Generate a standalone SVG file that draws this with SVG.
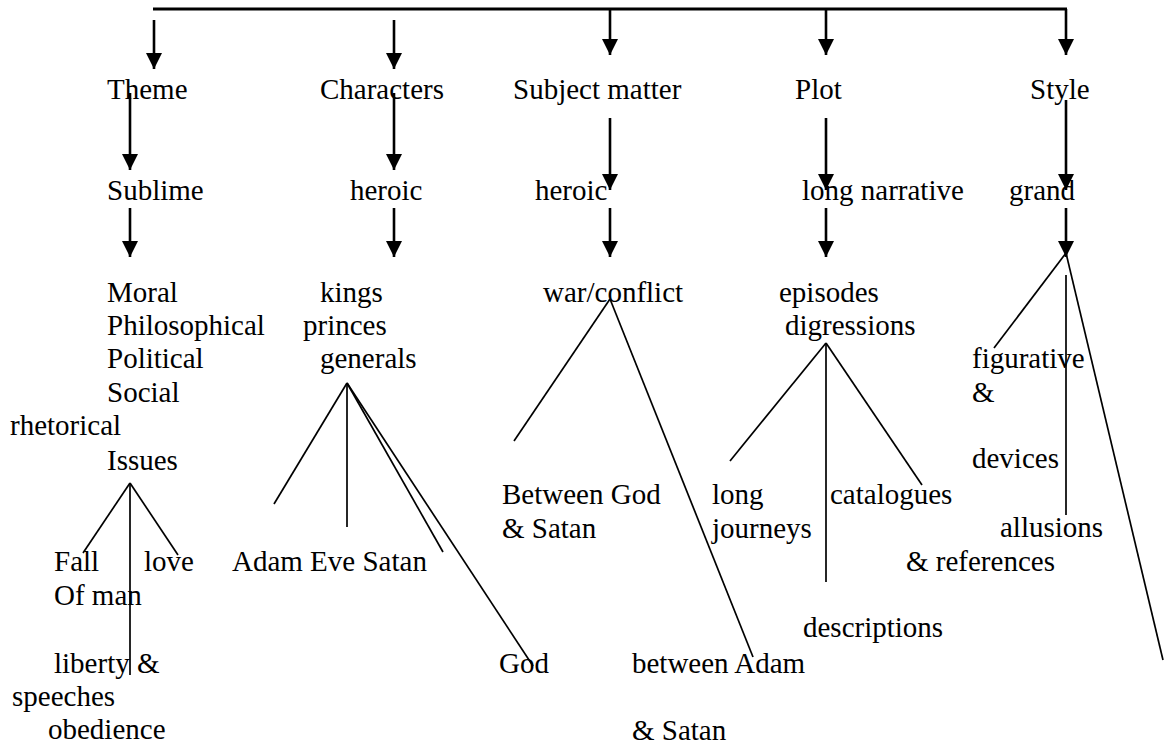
<svg xmlns="http://www.w3.org/2000/svg" width="1166" height="745" viewBox="0 0 1166 745">
  <style>
    text { font-family: "Liberation Serif", "Times New Roman", serif; font-size: 29px; fill: #000; }
    .arrow { stroke: #000; stroke-width: 2.6; fill: none; marker-end: url(#head); }
    .bar { stroke: #000; stroke-width: 2.8; fill: none; }
    .branch { stroke: #000; stroke-width: 1.7; fill: none; }
  </style>
  <defs>
    <marker id="head" markerUnits="userSpaceOnUse" markerWidth="16" markerHeight="16" refX="16" refY="8" orient="auto">
      <path d="M0,0 L16,8 L0,16 Z" fill="#000"/>
    </marker>
  </defs>
  <rect width="1166" height="745" fill="#fff"/>

  <!-- connectors -->
  <g id="connectors">
    <line class="bar" x1="153" y1="9" x2="1067" y2="9"/>
    <!-- top level arrows -->
    <line class="arrow" x1="154" y1="20" x2="154" y2="69"/>
    <line class="arrow" x1="394" y1="20" x2="394" y2="69"/>
    <line class="arrow" x1="610" y1="9" x2="610" y2="55"/>
    <line class="arrow" x1="826" y1="9" x2="826" y2="55"/>
    <line class="arrow" x1="1066" y1="9" x2="1066" y2="55"/>
    <!-- second level arrows -->
    <line class="arrow" x1="130" y1="93" x2="130" y2="170"/>
    <line class="arrow" x1="394" y1="93" x2="394" y2="170"/>
    <line class="arrow" x1="610" y1="118" x2="610" y2="190"/>
    <line class="arrow" x1="826" y1="118" x2="826" y2="190"/>
    <line class="arrow" x1="1066" y1="100" x2="1066" y2="190"/>
    <!-- third level arrows -->
    <line class="arrow" x1="130" y1="208" x2="130" y2="257"/>
    <line class="arrow" x1="394" y1="208" x2="394" y2="257"/>
    <line class="arrow" x1="610" y1="208" x2="610" y2="257"/>
    <line class="arrow" x1="826" y1="208" x2="826" y2="257"/>
    <line class="arrow" x1="1066" y1="208" x2="1066" y2="257"/>
    <!-- Issues fork -->
    <line class="branch" x1="130" y1="483" x2="83" y2="553"/>
    <line class="branch" x1="130" y1="483" x2="130" y2="675"/>
    <line class="branch" x1="130" y1="483" x2="178" y2="555"/>
    <!-- generals fork -->
    <line class="branch" x1="347" y1="383" x2="274" y2="504"/>
    <line class="branch" x1="347" y1="383" x2="347" y2="527"/>
    <line class="branch" x1="347" y1="383" x2="443" y2="552"/>
    <line class="branch" x1="347" y1="383" x2="533" y2="666"/>
    <!-- war/conflict fork -->
    <line class="branch" x1="610" y1="299" x2="514" y2="441"/>
    <line class="branch" x1="610" y1="299" x2="753" y2="657"/>
    <!-- digressions fork -->
    <line class="branch" x1="826" y1="343" x2="730" y2="461"/>
    <line class="branch" x1="826" y1="343" x2="826" y2="582"/>
    <line class="branch" x1="826" y1="343" x2="922" y2="485"/>
    <!-- grand fork -->
    <line class="branch" x1="1066" y1="253" x2="994" y2="348"/>
    <line class="branch" x1="1066" y1="275" x2="1066" y2="515"/>
    <line class="branch" x1="1066" y1="253" x2="1163" y2="660"/>
  </g>

  <!-- Theme column -->
  <g id="theme"><text x="107" y="99">Theme</text></g>
  <g id="sublime"><text x="107" y="200">Sublime</text></g>
  <g id="issues-list">
    <text x="107" y="302">Moral</text>
    <text x="107" y="335">Philosophical</text>
    <text x="107" y="368">Political</text>
    <text x="107" y="402">Social</text>
    <text x="10" y="435">rhetorical</text>
    <text x="107" y="470">Issues</text>
  </g>
  <g id="fall"><text x="54" y="571">Fall</text><text x="54" y="605">Of man</text></g>
  <g id="love"><text x="144" y="571">love</text></g>
  <g id="liberty"><text x="54" y="673">liberty &amp;</text><text x="48" y="739">obedience</text></g>
  <g id="speeches"><text x="12" y="706">speeches</text></g>

  <!-- Characters column -->
  <g id="characters"><text x="320" y="99">Characters</text></g>
  <g id="heroic-characters"><text x="350" y="200">heroic</text></g>
  <g id="ranks">
    <text x="320" y="302">kings</text>
    <text x="303" y="335">princes</text>
    <text x="320" y="368">generals</text>
  </g>
  <g id="adam-eve-satan"><text x="232" y="571">Adam Eve Satan</text></g>
  <g id="god"><text x="499" y="673">God</text></g>

  <!-- Subject matter column -->
  <g id="subject"><text x="513" y="99">Subject matter</text></g>
  <g id="heroic-subject"><text x="535" y="200">heroic</text></g>
  <g id="war"><text x="543" y="302">war/conflict</text></g>
  <g id="god-satan"><text x="502" y="504">Between God</text><text x="502" y="538">&amp; Satan</text></g>
  <g id="adam-satan"><text x="632" y="673">between Adam</text><text x="632" y="740">&amp; Satan</text></g>

  <!-- Plot column -->
  <g id="plot"><text x="795" y="99">Plot</text></g>
  <g id="narrative"><text x="802" y="200">long narrative</text></g>
  <g id="episodes"><text x="779" y="302">episodes</text><text x="785" y="335">digressions</text></g>
  <g id="journeys"><text x="712" y="504">long</text><text x="712" y="538">journeys</text></g>
  <g id="catalogues"><text x="830" y="504">catalogues</text></g>
  <g id="descriptions"><text x="803" y="637">descriptions</text></g>

  <!-- Style column -->
  <g id="style"><text x="1030" y="99">Style</text></g>
  <g id="grand"><text x="1009" y="200">grand</text></g>
  <g id="figurative"><text x="972" y="368">figurative</text><text x="972" y="402">&amp;</text><text x="972" y="468">devices</text></g>
  <g id="allusions"><text x="1000" y="537">allusions</text><text x="906" y="571">&amp; references</text></g>
</svg>
